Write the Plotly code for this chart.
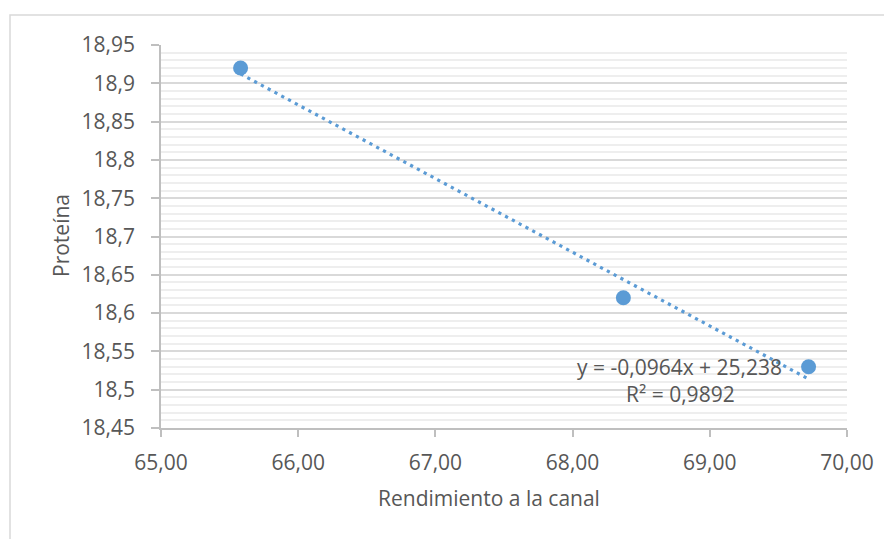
import numpy as np
import plotly.graph_objects as go

# Data
rendimiento = [65.58, 68.37, 69.72]
proteina = [18.92, 18.62, 18.53]
x_ticks = [65, 66, 67, 68, 69, 70]
x_ticktext = ["65,00", "66,00", "67,00", "68,00", "69,00", "70,00"]
y_ticks = [18.45, 18.5, 18.55, 18.6, 18.65, 18.7, 18.75, 18.8, 18.85, 18.9, 18.95]
y_ticktext = ["18,45", "18,5", "18,55", "18,6", "18,65", "18,7", "18,75", "18,8", "18,85", "18,9", "18,95"]
eq_text = "y = -0,0964x + 25,238"
r2_text = "R² = 0,9892"

# Linear trendline (least squares) drawn between min and max x
slope, intercept = np.polyfit(rendimiento, proteina, 1)
tx = [min(rendimiento), max(rendimiento)]
ty = [slope * v + intercept for v in tx]

FONT = "Open Sans"
FS = 21
TXT = "#575757"
BLUE = "#5b9bd5"

fig = go.Figure()
fig.add_trace(go.Scatter(x=tx, y=ty, mode="lines",
                         line=dict(color=BLUE, width=3.2, dash="3.2px,4.5px"),
                         hoverinfo="skip", showlegend=False))
fig.add_trace(go.Scatter(x=rendimiento, y=proteina, mode="markers",
                         marker=dict(color=BLUE, size=15, line=dict(width=0)),
                         showlegend=False))

# page offset of 8px (body margin) compensated
OFF = 8
W, H = 892 - OFF, 539 - OFF
L, T = 161 - OFF, 45 - OFF
R = W - (847 - OFF)
B = H - (428 - OFF)
pw, ph = W - L - R, H - T - B

def px_x(p):  # page pixel -> paper x
    return (p - OFF - L) / pw

def px_y(p):  # page pixel -> paper y
    return (H - B - (p - OFF)) / ph

fig.update_layout(
    width=W, height=H,
    margin=dict(l=L, r=R, t=T, b=B, pad=0),
    paper_bgcolor="white", plot_bgcolor="white",
    font=dict(family=FONT, size=FS, color=TXT),
    showlegend=False,
    xaxis=dict(range=[65, 70], tickmode="array", tickvals=x_ticks, ticktext=x_ticktext,
               showgrid=False, zeroline=False, showline=True, linecolor="#bfbfbf", linewidth=1.5,
               ticks="outside", ticklen=7, tickcolor="#bfbfbf", tickwidth=1.5,
               ticklabelstandoff=8,
               tickfont=dict(family=FONT, size=FS, color=TXT)),
    yaxis=dict(range=[18.45, 18.95], tickmode="array", tickvals=y_ticks, ticktext=y_ticktext,
               showgrid=True, gridcolor="#d9d9d9", gridwidth=1.5, zeroline=False,
               showline=True, linecolor="#bfbfbf", linewidth=1.5,
               ticks="outside", ticklen=8, tickcolor="#bfbfbf", tickwidth=1.5,
               ticklabelstandoff=12,
               tickfont=dict(family=FONT, size=FS, color=TXT),
               minor=dict(tickmode="linear", tick0=18.45, dtick=0.01, showgrid=True,
                          gridcolor="#eeeeee", gridwidth=1.5, ticks="")),
    shapes=[dict(type="rect", xref="paper", yref="paper",
                 x0=px_x(10), x1=px_x(905), y0=px_y(560), y1=px_y(15),
                 line=dict(color="#d9d9d9", width=1.5), fillcolor="rgba(0,0,0,0)", layer="below")],
    annotations=[
        dict(text="Rendimiento a la canal", xref="paper", yref="paper",
             x=px_x(489), y=px_y(498), showarrow=False, xanchor="center", yanchor="middle",
             font=dict(family=FONT, size=FS, color=TXT)),
        dict(text="Proteína", xref="paper", yref="paper", textangle=-90,
             x=px_x(61), y=px_y(236), showarrow=False, xanchor="center", yanchor="middle",
             font=dict(family=FONT, size=FS, color=TXT)),
        dict(text=eq_text, xref="x", yref="y", x=68.78, y=18.5296, showarrow=False,
             xanchor="center", yanchor="middle", font=dict(family=FONT, size=FS, color=TXT)),
        dict(text=r2_text, xref="x", yref="y", x=68.79, y=18.4944, showarrow=False,
             xanchor="center", yanchor="middle", font=dict(family=FONT, size=FS, color=TXT)),
    ],
)

fig.write_html("out.html")
